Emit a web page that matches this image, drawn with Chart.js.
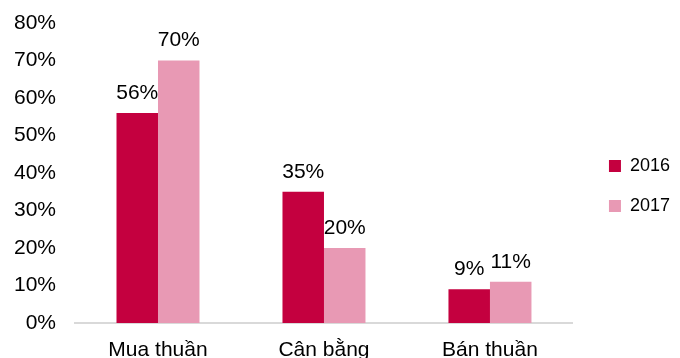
<!DOCTYPE html>
<html>
<head>
<meta charset="utf-8">
<script src="https://cdn.jsdelivr.net/npm/chart.js@4.4.0/dist/chart.umd.min.js"></script>
<style>
  html, body { margin: 0; padding: 0; background: #fff; }
  #wrap { width: 680px; height: 358px; }
</style>
</head>
<body>
<div id="wrap"><canvas id="bar-chart" width="680" height="358"></canvas></div>
<script>
const categories = ['Mua thuần', 'Cân bằng', 'Bán thuần'];
const values2016 = [56, 35, 9];
const values2017 = [70, 20, 11];
const seriesNames = ['2016', '2017'];
const yTicks = [0, 10, 20, 30, 40, 50, 60, 70, 80];

const fontFamily = '"Liberation Sans", Arial, sans-serif';

// labels above each bar
const barLabels = {
    id: 'barLabels',
    afterDatasetsDraw(chart) {
        const ctx = chart.ctx;
        ctx.save();
        ctx.font = '21px ' + fontFamily;
        ctx.fillStyle = '#000';
        ctx.textAlign = 'center';
        ctx.textBaseline = 'middle';
        chart.data.datasets.forEach(function(ds, i) {
            chart.getDatasetMeta(i).data.forEach(function(bar, j) {
                ctx.fillText(ds.data[j] + '%', bar.x, bar.y - 20);
            });
        });
        ctx.restore();
    }
};

const ctx = document.getElementById('bar-chart').getContext('2d');
const myChart = new Chart(ctx, {
    type: 'bar',
    data: {
        labels: categories,
        datasets: [{
            label: seriesNames[0],
            data: values2016,
            backgroundColor: '#c4003f',
            categoryPercentage: 0.5,
            barPercentage: 1
        }, {
            label: seriesNames[1],
            data: values2017,
            backgroundColor: '#e899b4',
            categoryPercentage: 0.5,
            barPercentage: 1
        }]
    },
    options: {
        responsive: false,
        animation: false,
        devicePixelRatio: 1,
        layout: { padding: 0 },
        font: { family: fontFamily, size: 18 },
        plugins: {
            legend: {
                position: 'right',
                title: { display: true, text: '', padding: 0, font: { size: 10, lineHeight: 1.4 } },
                labels: {
                    boxWidth: 12,
                    boxHeight: 12,
                    padding: 22,
                    color: '#000',
                    font: { size: 18, family: fontFamily }
                }
            },
            tooltip: { enabled: false }
        },
        scales: {
            x: {
                grid: { display: false, drawTicks: false },
                border: { display: true, color: '#d9d9d9', width: 2 },
                ticks: { color: '#000', padding: 15, font: { size: 21 } },
                afterFit(scale) { scale.height = 35; }
            },
            y: {
                min: 0,
                max: 80,
                afterBuildTicks(scale) { scale.ticks = yTicks.map(v => ({ value: v })); },
                afterFit(scale) { scale.width = 75; scale.paddingTop = 23; },
                grid: { display: false, drawTicks: false },
                border: { display: false },
                ticks: {
                    color: '#000',
                    padding: 19,
                    font: { size: 21 },
                    callback: v => v + '%'
                }
            },
            spacer: {
                position: 'right',
                display: true,
                grid: { display: false, drawTicks: false },
                border: { display: false },
                ticks: { display: false },
                afterFit(scale) { scale.width = 14; }
            }
        }
    },
    plugins: [barLabels]
});
</script>
</body>
</html>
